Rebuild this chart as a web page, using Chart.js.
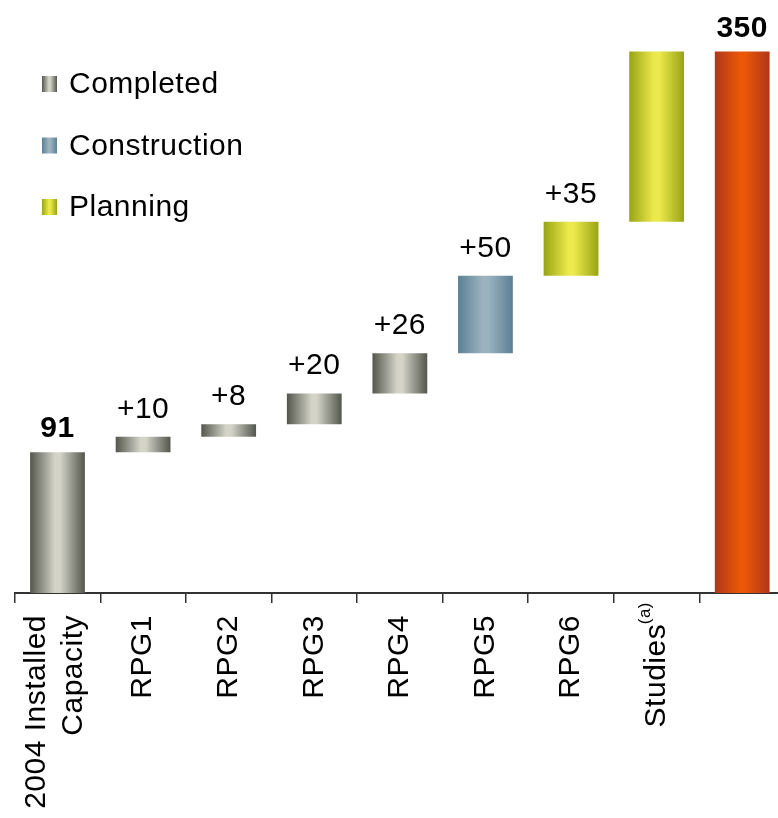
<!DOCTYPE html>
<html>
<head>
<meta charset="utf-8">
<script src="https://cdn.jsdelivr.net/npm/chart.js@4/dist/chart.umd.min.js"></script>
<style>
  html, body { margin: 0; padding: 0; background: #fff; overflow: hidden; }
  #wrap { width: 778px; height: 818px; overflow: hidden; position: relative; }
  canvas { display: block; }
</style>
</head>
<body>
<div id="wrap"><canvas id="c" width="800" height="818"></canvas></div>
<script>
// ---- data ----
const categories = [['2004 Installed', 'Capacity'], 'RPG1', 'RPG2', 'RPG3', 'RPG4', 'RPG5', 'RPG6', 'Studies ', ''];
const increments = [91, 10, 8, 20, 26, 50, 35, 110];
const totalValue = 350;
const valueLabels = ['91', '+10', '+8', '+20', '+26', '+50', '+35', '', '350'];
const boldLabels = [true, false, false, false, false, false, false, false, true];
const statuses = ['completed', 'completed', 'completed', 'completed', 'completed', 'construction', 'planning', 'planning', 'total'];
const legendItems = ['Completed', 'Construction', 'Planning'];
const legendStatuses = ['completed', 'construction', 'planning'];
const footnoteIndex = 7;
const footnoteText = '(a)';

// ---- build floating ranges ----
const ranges = [];
let run = 0;
increments.forEach(v => { ranges.push([run, run + v]); run += v; });
ranges.push([0, totalValue]);

const palette = {
  completed:    { edge: '#53564c', mid: '#d3d3c7' },
  construction: { edge: '#5b8095', mid: '#9cb3bf' },
  planning:     { edge: '#98a414', mid: '#ece94c' },
  total:        { edge: '#b0361a', mid: '#e95707' }
};

function makeGrad(ctx, x0, x1, status) {
  const p = palette[status];
  const g = ctx.createLinearGradient(x0, 0, x1, 0);
  g.addColorStop(0, p.edge);
  g.addColorStop(0.45, p.mid);
  g.addColorStop(0.55, p.mid);
  g.addColorStop(1, p.edge);
  return g;
}

const FONT = '"Liberation Sans", Arial, Helvetica, sans-serif';
const FS = 30;
const SPACING = '0.5px';
const BAR_PCT = 0.64;

const spacingPlugin = {
  id: 'spacing',
  beforeUpdate(chart) { chart.ctx.letterSpacing = SPACING; },
  beforeDraw(chart) {
    chart.ctx.letterSpacing = SPACING;
    // shift the two-line first category label to centre it on its slot
    const xs = chart.scales.x;
    const items = xs.getLabelItems();
    if (items && items[0] && !items[0]._shifted) {
      items[0].options.translation[0] -= 21;
      items[0]._shifted = true;
    }
  }
};

const valueLabelPlugin = {
  id: 'valueLabels',
  afterDatasetsDraw(chart) {
    const ctx = chart.ctx;
    const meta = chart.getDatasetMeta(0);
    ctx.save();
    ctx.fillStyle = '#000';
    ctx.textAlign = 'center';
    ctx.textBaseline = 'alphabetic';
    meta.data.forEach((el, i) => {
      const txt = valueLabels[i];
      if (!txt) return;
      ctx.font = (boldLabels[i] ? 'bold ' : '') + FS + 'px ' + FONT;
      ctx.fillText(txt, el.x, el.y - (boldLabels[i] ? 15 : 19));
    });
    ctx.restore();
  }
};

const legendPlugin = {
  id: 'customLegend',
  afterDraw(chart) {
    const ctx = chart.ctx;
    ctx.save();
    ctx.font = FS + 'px ' + FONT;
    ctx.textBaseline = 'middle';
    ctx.textAlign = 'left';
    legendItems.forEach((t, i) => {
      const cy = 84 + i * 61.5;
      ctx.fillStyle = makeGrad(ctx, 42, 57, legendStatuses[i]);
      ctx.fillRect(42, cy - 8, 15, 16);
      ctx.fillStyle = '#000';
      ctx.fillText(t, 69, cy + 1);
    });
    ctx.restore();
  }
};

const footnotePlugin = {
  id: 'footnote',
  afterDraw(chart) {
    const xs = chart.scales.x;
    const ctx = chart.ctx;
    const x = xs.getPixelForValue(footnoteIndex) - 11;
    const yEnd = xs.top + 9;
    ctx.save();
    ctx.translate(x, yEnd);
    ctx.rotate(-Math.PI / 2);
    ctx.font = '17px ' + FONT;
    ctx.fillStyle = '#000';
    ctx.textAlign = 'right';
    ctx.textBaseline = 'middle';
    ctx.fillText(footnoteText, 0, 0);
    ctx.restore();
  }
};

new Chart(document.getElementById('c'), {
  type: 'bar',
  data: {
    labels: categories,
    datasets: [{
      data: ranges,
      barPercentage: BAR_PCT,
      categoryPercentage: 1.0,
      borderWidth: 0,
      borderSkipped: false,
      backgroundColor: (c) => {
        const chart = c.chart;
        const status = statuses[c.dataIndex];
        if (!chart.chartArea || !chart.scales.x) return palette[status].mid;
        const xs = chart.scales.x;
        const center = xs.getPixelForValue(c.dataIndex);
        const w = xs.width / categories.length * BAR_PCT;
        return makeGrad(chart.ctx, center - w / 2, center + w / 2, status);
      }
    }]
  },
  options: {
    responsive: false,
    animation: false,
    events: [],
    layout: { padding: { left: 14.7, right: 15, top: 0, bottom: 0 } },
    plugins: { legend: { display: false }, tooltip: { enabled: false } },
    scales: {
      y: { display: false, min: 0, max: 383.3 },
      x: {
        afterFit(scale) { scale.height = 225; },
        grid: {
          display: true,
          drawOnChartArea: false,
          drawTicks: true,
          tickLength: 10,
          color: '#333',
          lineWidth: 1.5,
          offset: true
        },
        border: { display: true, color: '#333', width: 2 },
        ticks: {
          autoSkip: false,
          maxRotation: 90,
          minRotation: 90,
          padding: 12,
          color: '#000',
          font: { family: FONT, size: FS, lineHeight: 1.25 }
        }
      }
    }
  },
  plugins: [spacingPlugin, valueLabelPlugin, legendPlugin, footnotePlugin]
});
</script>
</body>
</html>
